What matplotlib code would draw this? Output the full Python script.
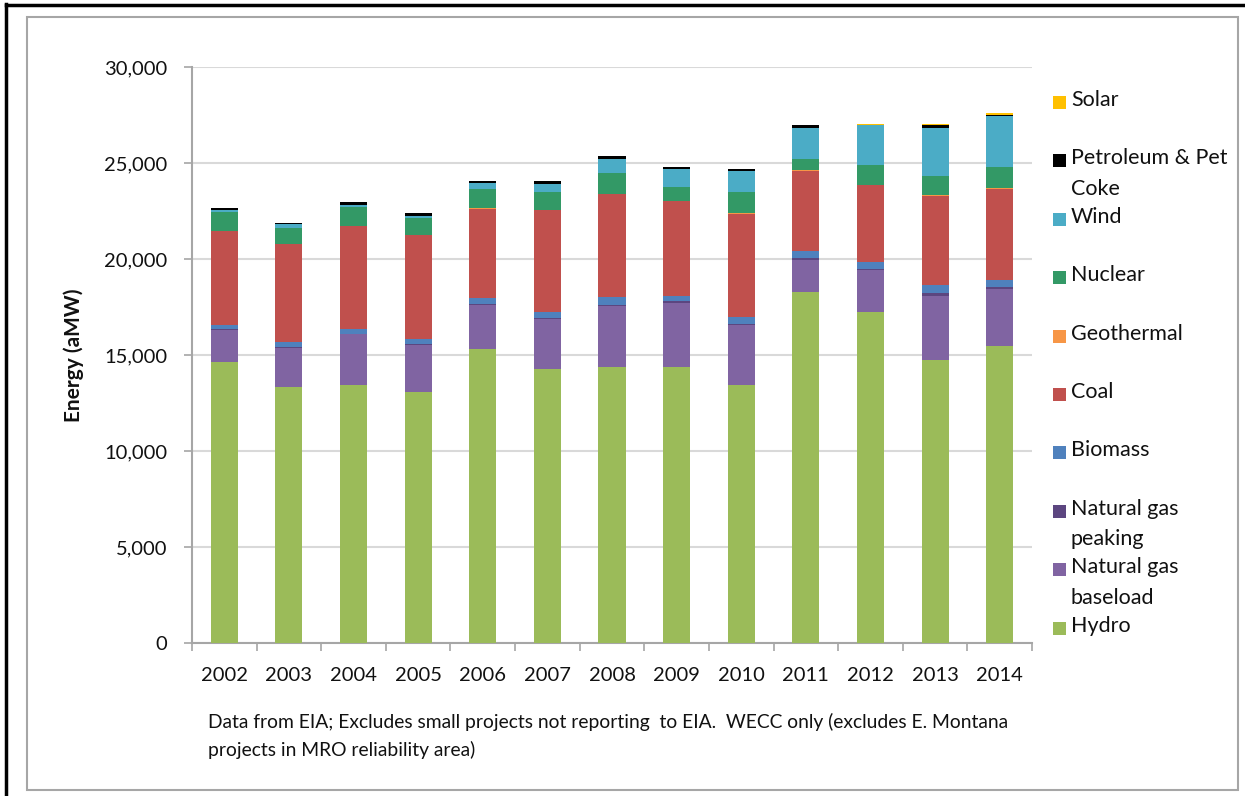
import matplotlib
matplotlib.use("Agg")
import matplotlib.pyplot as plt
from matplotlib.patches import Rectangle
from matplotlib.lines import Line2D
import numpy as np

plt.rcParams['font.family'] = ['Lato', 'DejaVu Sans']

years = ["2002", "2003", "2004", "2005", "2006", "2007", "2008",
         "2009", "2010", "2011", "2012", "2013", "2014"]

hydro       = [14650, 13316, 13420, 13056, 15297, 14253, 14358, 14358, 13420, 18297, 17257, 14740, 15453]
ng_baseload = [1650, 2044, 2650, 2461, 2303, 2601, 3196, 3367, 3137, 1651, 2166, 3350, 2984]
ng_peaking  = [40, 40, 40, 40, 40, 90, 50, 87, 40, 88, 40, 122, 87]
biomass     = [220, 260, 262, 276, 346, 313, 399, 278, 365, 381, 397, 434, 382]
coal        = [4885, 5105, 5332, 5402, 4639, 5280, 5383, 4933, 5401, 4188, 3995, 4652, 4762]
geothermal  = [15, 15, 15, 15, 15, 15, 15, 15, 15, 15, 15, 15, 15]
nuclear     = [1000, 834, 1007, 901, 1006, 938, 1094, 728, 1112, 573, 1026, 1026, 1126]
wind        = [90, 190, 90, 100, 294, 432, 731, 922, 1110, 1614, 2067, 2468, 2621]
petroleum   = [90, 87, 137, 127, 140, 158, 154, 121, 105, 172, 20, 160, 90]
solar       = [0, 0, 0, 0, 0, 0, 0, 0, 0, 0, 64, 80, 67]

series = [
    ("Hydro", hydro, "#9BBB59"),
    ("Natural gas\nbaseload", ng_baseload, "#8064A2"),
    ("Natural gas\npeaking", ng_peaking, "#5C4680"),
    ("Biomass", biomass, "#4F81BD"),
    ("Coal", coal, "#C0504D"),
    ("Geothermal", geothermal, "#F79646"),
    ("Nuclear", nuclear, "#339966"),
    ("Wind", wind, "#4BACC6"),
    ("Petroleum & Pet\nCoke", petroleum, "#000000"),
    ("Solar", solar, "#FFC000"),
]

caption = ["Data from EIA; Excludes small projects not reporting  to EIA.  WECC only (excludes E. Montana",
           "projects in MRO reliability area)"]

W, H = 1245, 796
fig = plt.figure(figsize=(W / 100, H / 100), dpi=100)

# outer frames
fig.add_artist(Line2D([6 / W, 6 / W], [0, 1 - 4 / H], color="black", lw=2.5))
fig.add_artist(Line2D([6 / W, 1], [1 - 5 / H, 1 - 5 / H], color="black", lw=2.5))
fig.add_artist(Rectangle((27 / W, 1 - 790 / H), (1238 - 27) / W, (790 - 17) / H,
                         transform=fig.transFigure, fill=False,
                         edgecolor="#A6A6A6", lw=1.5))

ax = fig.add_axes([192 / W, 1 - 643 / H, (1032 - 192) / W, (643 - 67) / H])

x = np.arange(len(years))
bottom = np.zeros(len(years))
for name, vals, col in series:
    v = np.array(vals, dtype=float)
    ax.bar(x, v, width=0.42, bottom=bottom, color=col, edgecolor="none", zorder=3)
    bottom += v

ax.set_xlim(-0.5, len(years) - 0.5)
ax.set_ylim(0, 30000)
ax.set_yticks(np.arange(0, 30001, 5000))
ax.set_yticklabels([f"{v:,}" for v in range(0, 30001, 5000)])
ax.yaxis.grid(True, color="#D9D9D9", lw=1.5, zorder=0)
ax.set_axisbelow(True)

ax.set_xticks(x)
ax.set_xticklabels(years)
ax.set_xticks(np.arange(-0.5, len(years), 1.0), minor=True)
ax.tick_params(axis="x", which="major", length=0, pad=17, labelsize=14.5, labelcolor="#111111")
ax.tick_params(axis="x", which="minor", length=6, width=1.2, color="#A6A6A6", direction="out")
ax.tick_params(axis="y", length=6, width=1.2, color="#A6A6A6", pad=12,
               labelsize=14.5, labelcolor="#111111")

for s in ["top", "right"]:
    ax.spines[s].set_visible(False)
for s in ["left", "bottom"]:
    ax.spines[s].set_color("#A6A6A6")
    ax.spines[s].set_linewidth(1.5)

fig.text(74 / W, 1 - 355 / H, "Energy (aMW)", rotation=90, ha="center", va="center",
         fontsize=15, fontweight="bold", color="#111111")

# legend (top entry = last series)
slot = 58.4
y0 = 102
for i, (name, vals, col) in enumerate(reversed(series)):
    yc = y0 + i * slot
    fig.add_artist(Rectangle((1053 / W, 1 - (yc + 7) / H), 13 / W, 13 / H,
                             transform=fig.transFigure, facecolor=col, edgecolor="none"))
    fig.text(1071 / W, 1 - (yc - 12) / H, name, ha="left", va="top",
             fontsize=15.5, color="#111111", linespacing=1.65)

for j, line in enumerate(caption):
    fig.text(208 / W, 1 - (722 + 28 * j) / H, line, ha="left", va="center",
             fontsize=13.9, color="#111111")

fig.savefig("out.png", dpi=100)
